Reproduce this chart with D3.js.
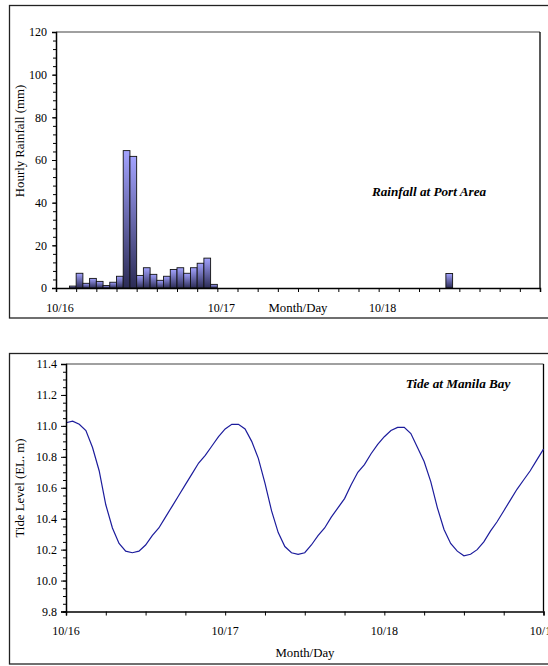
<!DOCTYPE html>
<html>
<head>
<meta charset="utf-8">
<script src="https://cdn.jsdelivr.net/npm/d3@7"></script>
<style>
  body { margin: 0; background: #fff; }
  svg { display: block; }
  svg text { font-family: 'Liberation Serif', 'DejaVu Serif', serif !important; fill: #000; }
</style>
</head>
<body>
<svg id="chart" width="548" height="666" font-family="Liberation Serif, serif"></svg>
<script>
// hourly rainfall, bar start hour counted from 10/16 00:00
var rainHours = [2, 3, 4, 5, 6, 7, 8, 9, 10, 11, 12, 13, 14, 15, 16, 17, 18, 19, 20, 21, 22, 23, 58];
var rainMm = [0.9, 6.9, 2.2, 4.5, 3.1, 1.2, 2.7, 5.5, 64.4, 61.7, 5.9, 9.5, 6.4, 3.6, 5.5, 8.7, 9.5, 6.9, 9.5, 11.6, 14, 1.7, 6.8];
var rainTicks = [0, 20, 40, 60, 80, 100, 120];

// tide level every hour from 10/16 00:00 to 10/19 00:00
var tideLevel = [
    11.02, 11.03, 11.01, 10.97, 10.86, 10.71, 10.49, 10.34, 10.24, 10.19, 10.18, 10.19,
    10.23, 10.29, 10.34, 10.41, 10.48, 10.55, 10.62, 10.69, 10.76, 10.81, 10.87, 10.93,
    10.98, 11.01, 11.01, 10.98, 10.90, 10.79, 10.63, 10.45, 10.31, 10.22, 10.18, 10.17,
    10.18, 10.23, 10.29, 10.34, 10.41, 10.47, 10.53, 10.62, 10.70, 10.75, 10.82, 10.88,
    10.93, 10.97, 10.99, 10.99, 10.95, 10.86, 10.77, 10.64, 10.47, 10.33, 10.24, 10.19,
    10.16, 10.17, 10.20, 10.25, 10.32, 10.38, 10.45, 10.52, 10.59, 10.65, 10.71, 10.78, 10.85
];
var tideTicks = [9.8, 10.0, 10.2, 10.4, 10.6, 10.8, 11.0, 11.2, 11.4];
var dayLabels = ["10/16", "10/17", "10/18", "10/19"];

var FONT = "'Liberation Serif', 'DejaVu Serif', serif";
var svg = d3.select("#chart");

// gradient for the bars (light on top, dark at base)
var grad = svg.append("defs").append("linearGradient")
    .attr("id", "barGrad")
    .attr("x1", 0).attr("y1", 0).attr("x2", 0).attr("y2", 1);
grad.append("stop").attr("offset", "0%").attr("stop-color", "#a3a3ff");
grad.append("stop").attr("offset", "100%").attr("stop-color", "#2b2b55");

function frame(x0, y0, x1, y1, color) {
    svg.append("rect")
        .attr("x", x0).attr("y", y0)
        .attr("width", x1 - x0).attr("height", y1 - y0)
        .attr("fill", "none").attr("stroke", color).attr("stroke-width", 1.3);
}

function label(x, y, txt, size) {
    return svg.append("text").attr("x", x).attr("y", y)
        .attr("text-anchor", "middle")
        .style("font-family", FONT)
        .style("font-size", (size || 12) + "px")
        .text(txt);
}

/* ---------- top chart: rainfall ---------- */
frame(9.5, 5.5, 580, 318, "#222");

var x1 = d3.scaleLinear().domain([0, 72]).range([56, 540]);
var y1 = d3.scaleLinear().domain([0, 120]).range([288, 32]);

// plot frame top / right
svg.append("line").attr("x1", 56).attr("x2", 540).attr("y1", 32).attr("y2", 32)
    .attr("stroke", "#808080").attr("stroke-width", 1.5);
svg.append("line").attr("x1", 540).attr("x2", 540).attr("y1", 32).attr("y2", 288)
    .attr("stroke", "#000").attr("stroke-width", 1.3);

svg.append("g").selectAll("rect")
    .data(rainHours)
    .enter().append("rect")
    .attr("x", function(d) { return x1(d); })
    .attr("y", function(d, i) { return y1(rainMm[i]); })
    .attr("width", function(d) { return x1(d + 1) - x1(d); })
    .attr("height", function(d, i) { return y1(0) - y1(rainMm[i]); })
    .attr("fill", "url(#barGrad)")
    .attr("stroke", "#111")
    .attr("stroke-width", 0.9);

// y axis with minor ticks
svg.append("g").attr("transform", "translate(56,0)")
    .call(d3.axisLeft(y1).tickValues(d3.range(0, 121, 4)).tickSize(3).tickFormat(""));
svg.append("g").attr("transform", "translate(56,0)")
    .call(d3.axisLeft(y1).tickValues(rainTicks).tickSize(4).tickPadding(5))
    .call(function(g) { g.select(".domain").attr("stroke-width", 1.5); })
    .selectAll("text").style("font-size", "12px").style("font-family", FONT);

// x axis, ticks every 3 hours
svg.append("g").attr("transform", "translate(0,288)")
    .call(d3.axisBottom(x1).tickValues(d3.range(0, 73, 3)).tickSize(4).tickFormat(""))
    .call(function(g) { g.select(".domain").attr("stroke-width", 1.5); });

dayLabels.slice(0, 3).forEach(function(d, i) {
    label(x1(i * 24) + 4, 312, d);
});
label(298, 312, "Month/Day", 12.8);

svg.append("text")
    .attr("transform", "translate(24,141) rotate(-90)")
    .attr("text-anchor", "middle")
    .style("font-family", FONT).style("font-size", "12.8px")
    .text("Hourly Rainfall (mm)");

label(429, 196, "Rainfall at Port Area", 13.2)
    .style("font-weight", "bold").style("font-style", "italic");

/* ---------- bottom chart: tide ---------- */
frame(9.5, 353.5, 580, 664, "#222");

var x2 = d3.scaleLinear().domain([0, 72]).range([66, 543.5]);
var y2 = d3.scaleLinear().domain([9.8, 11.4]).range([611.5, 364]);

svg.append("line").attr("x1", 66).attr("x2", 543.5).attr("y1", 364).attr("y2", 364)
    .attr("stroke", "#808080").attr("stroke-width", 1.5);
svg.append("line").attr("x1", 543.5).attr("x2", 543.5).attr("y1", 364).attr("y2", 611.5)
    .attr("stroke", "#000").attr("stroke-width", 1.3);

svg.append("path")
    .datum(tideLevel)
    .attr("fill", "none")
    .attr("stroke", "#1c1c9c")
    .attr("stroke-width", 1.2)
    .attr("d", d3.line()
        .x(function(d, i) { return x2(i); })
        .y(function(d) { return y2(d); }));

svg.append("g").attr("transform", "translate(66,0)")
    .call(d3.axisLeft(y2).tickValues(d3.range(0, 33).map(function(i) { return 9.8 + i * 0.05; }))
        .tickSize(3).tickFormat(""));
svg.append("g").attr("transform", "translate(66,0)")
    .call(d3.axisLeft(y2).tickValues(tideTicks).tickSize(5).tickPadding(4).tickFormat(d3.format(".1f")))
    .call(function(g) { g.select(".domain").attr("stroke-width", 1.5); })
    .selectAll("text").style("font-size", "12px").style("font-family", FONT);

svg.append("g").attr("transform", "translate(0,611.5)")
    .call(d3.axisBottom(x2).tickValues(d3.range(0, 73, 6)).tickSize(4).tickFormat(""))
    .call(function(g) { g.select(".domain").attr("stroke-width", 1.5); });

dayLabels.forEach(function(d, i) {
    label(x2(i * 24), 635, d);
});
label(305, 657, "Month/Day", 12.8);

svg.append("text")
    .attr("transform", "translate(24,488) rotate(-90)")
    .attr("text-anchor", "middle")
    .style("font-family", FONT).style("font-size", "12.8px")
    .text("Tide Level (EL. m)");

label(458, 388, "Tide at Manila Bay", 13.2)
    .style("font-weight", "bold").style("font-style", "italic");
</script>
</body>
</html>
